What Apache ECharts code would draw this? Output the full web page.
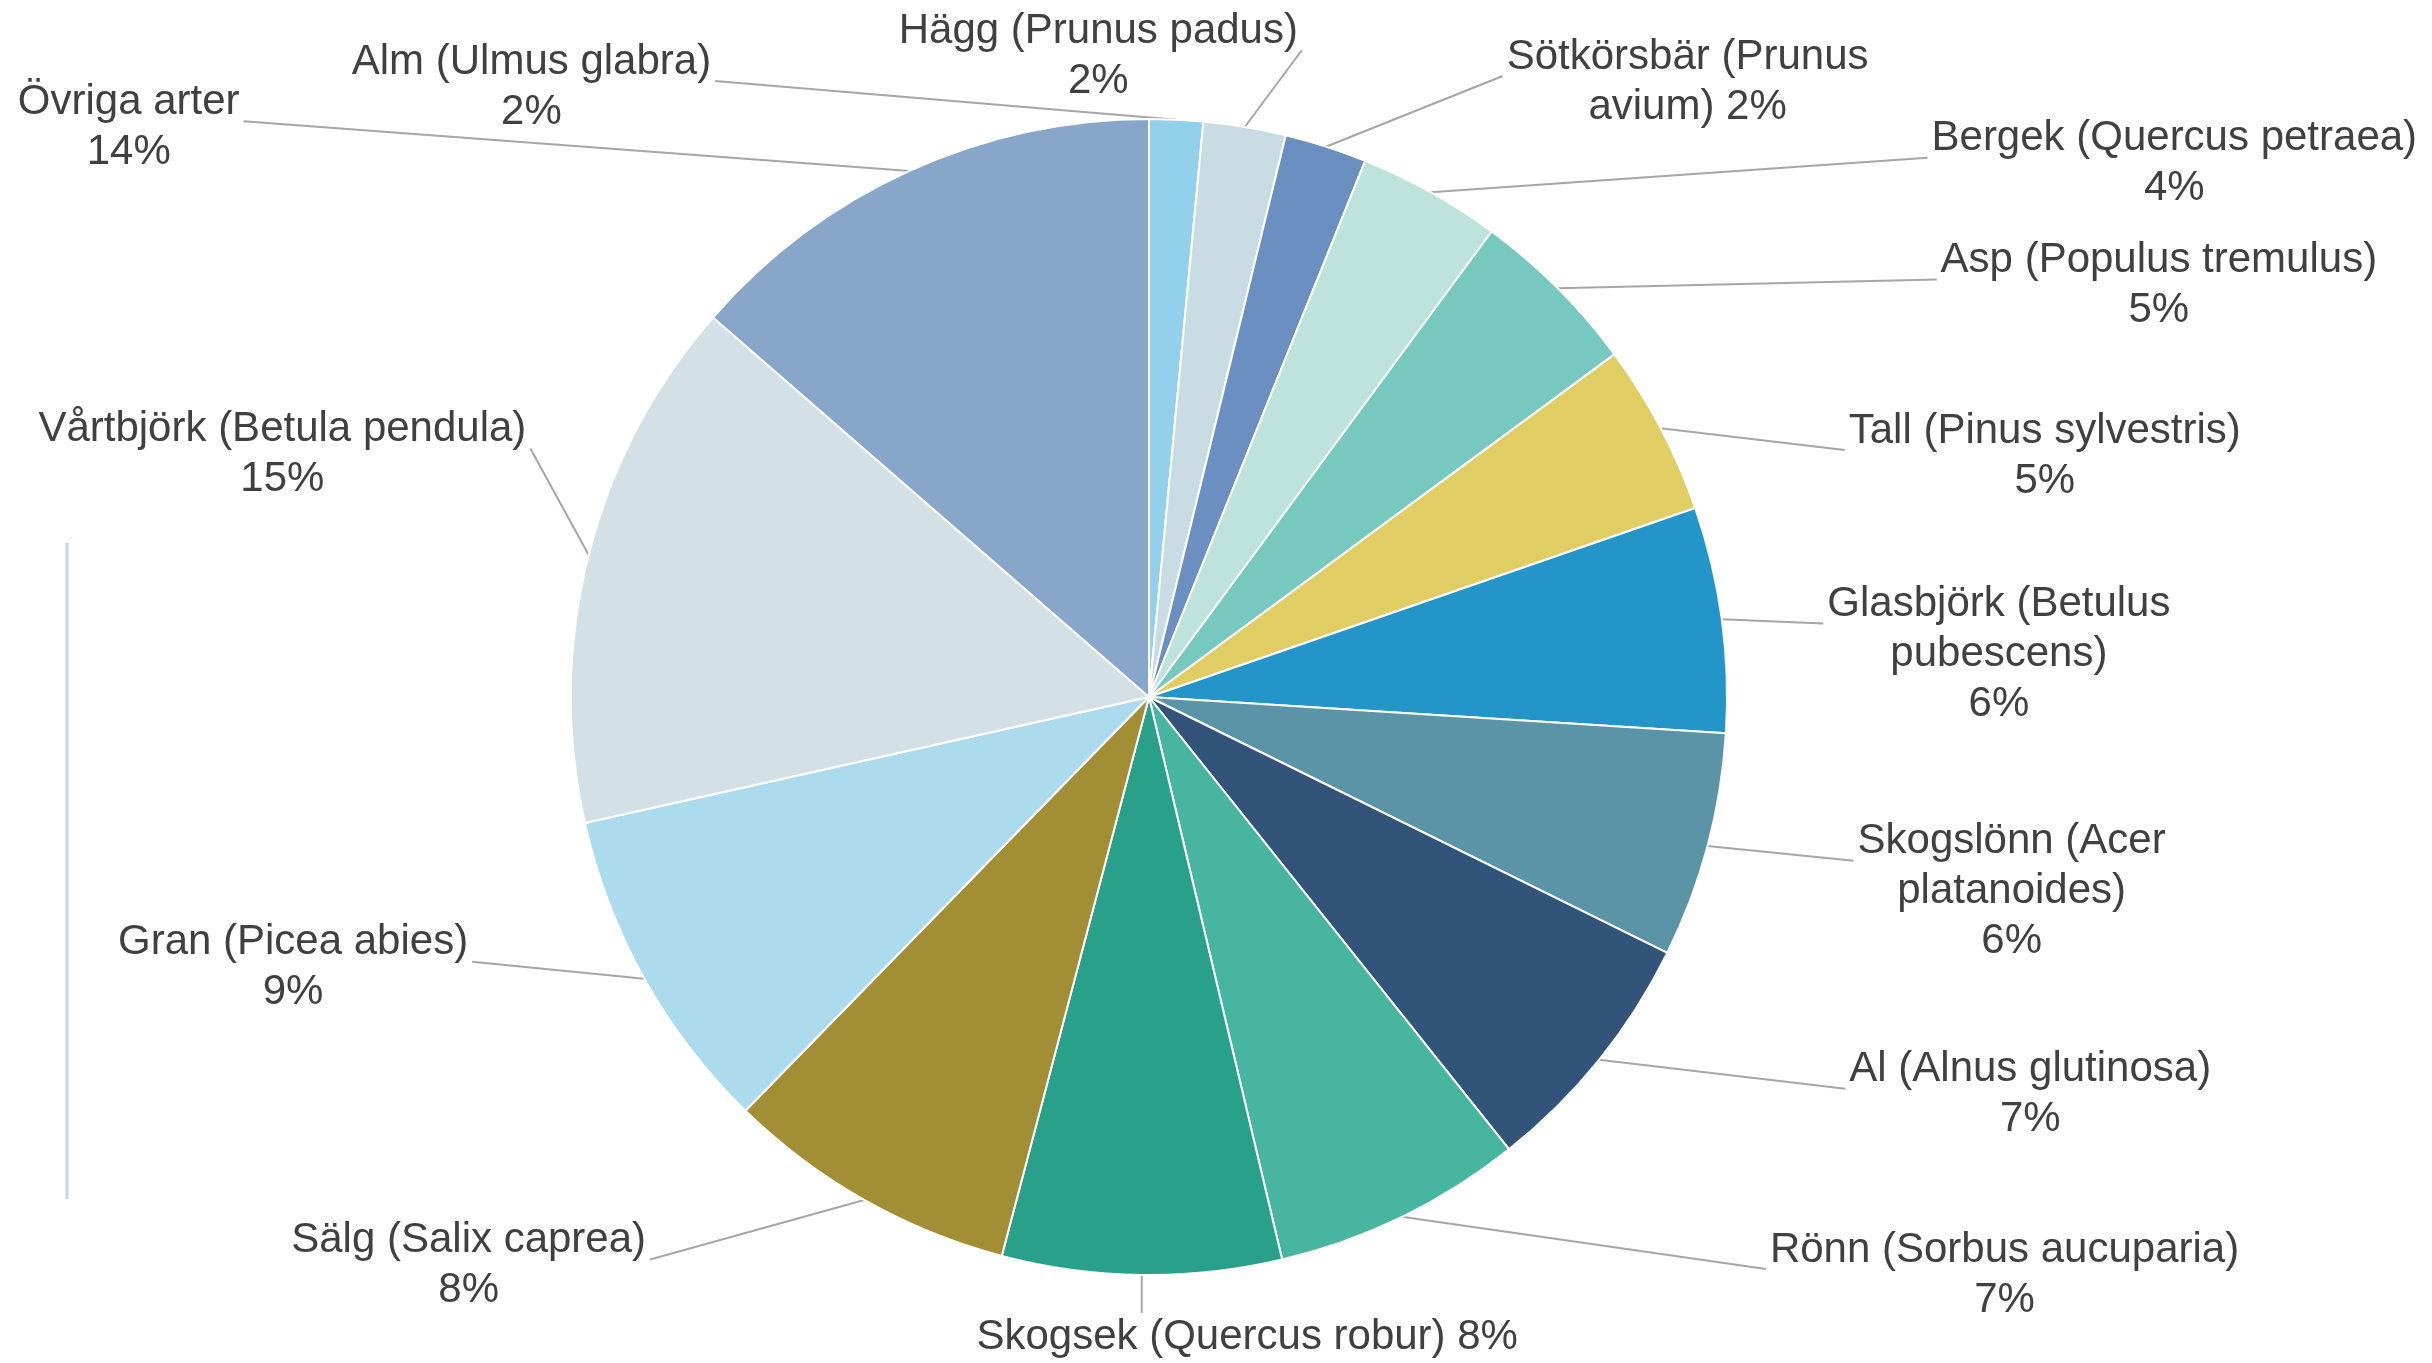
<!DOCTYPE html>
<html>
<head>
<meta charset="utf-8">
<script src="https://cdn.jsdelivr.net/npm/echarts@6/dist/echarts.min.js"></script>
<style>
  html, body { margin: 0; padding: 0; background: #ffffff; }
  #chart { width: 2432px; height: 1363px; }
</style>
</head>
<body>
<div id="chart"></div>
<script>
// ---- Data (clockwise from 12 o'clock) ----
const categories = [
  'Alm (Ulmus glabra)',
  'Hägg (Prunus padus)',
  'Sötkörsbär (Prunus avium)',
  'Bergek (Quercus petraea)',
  'Asp (Populus tremulus)',
  'Tall (Pinus sylvestris)',
  'Glasbjörk (Betulus pubescens)',
  'Skogslönn (Acer platanoides)',
  'Al (Alnus glutinosa)',
  'Rönn (Sorbus aucuparia)',
  'Skogsek (Quercus robur)',
  'Sälg (Salix caprea)',
  'Gran (Picea abies)',
  'Vårtbjörk (Betula pendula)',
  'Övriga arter'
];
const shares = [1.5, 2.3, 2.3, 4.0, 4.8, 4.8, 6.3, 6.3, 7.0, 7.0, 7.8, 8.2, 9.2, 14.9, 13.6];

// Label rows as wrapped in the original ({p} = percentage)
const labelRows = [
  ['Alm (Ulmus glabra)', '{p}'],
  ['Hägg (Prunus padus)', '{p}'],
  ['Sötkörsbär (Prunus', 'avium) {p}'],
  ['Bergek (Quercus petraea)', '{p}'],
  ['Asp (Populus tremulus)', '{p}'],
  ['Tall (Pinus sylvestris)', '{p}'],
  ['Glasbjörk (Betulus', 'pubescens)', '{p}'],
  ['Skogslönn (Acer', 'platanoides)', '{p}'],
  ['Al (Alnus glutinosa)', '{p}'],
  ['Rönn (Sorbus aucuparia)', '{p}'],
  ['Skogsek (Quercus robur) {p}'],
  ['Sälg (Salix caprea)', '{p}'],
  ['Gran (Picea abies)', '{p}'],
  ['Vårtbjörk (Betula pendula)', '{p}'],
  ['Övriga arter', '{p}']
];

// ---- Styles ----
const sliceColors = [
  '#92D0EB', '#C9DCE3', '#6A8FC0', '#BEE3DC', '#77C9C0',
  '#E0CD63', '#2395C9', '#5B94A6', '#33547A', '#48B5A0',
  '#28A08A', '#A18E35', '#ADDBEE', '#D3E1E7', '#88A6CA'
];
// label-line lengths [length, length2] per slice (label placement)
const labelLineLens = [
  [32.6, -831], [72, -363], [68, 155], [32.6, 480], [4.1, 375],
  [-59.8, 236], [-262.8, 361], [177.7, -26.6], [55.7, 202], [64.6, 335],
  [62, -382], [75.4, 176], [-22.2, 190.5], [409.2, -339.3], [48.1, 645]
];

const data = categories.map((name, i) => ({
  name: name,
  value: shares[i],
  itemStyle: { color: sliceColors[i] },
  labelLine: { length: labelLineLens[i][0], length2: labelLineLens[i][1] }
}));

const chart = echarts.init(document.getElementById('chart'), null, { renderer: 'canvas' });

chart.setOption({
  animation: false,
  backgroundColor: '#ffffff',
  graphic: [{
    type: 'line',
    shape: { x1: 67, y1: 543, x2: 67, y2: 1199 },
    style: { stroke: '#BDD7EE', lineWidth: 3 }
  }],
  series: [{
    type: 'pie',
    center: [1149, 697],
    radius: 578,
    startAngle: 90,
    clockwise: true,
    avoidLabelOverlap: false,
    itemStyle: { borderColor: '#ffffff', borderWidth: 2 },
    emphasis: { disabled: true },
    label: {
      show: true,
      position: 'outside',
      distanceToLabelLine: 5,
      fontFamily: '"Liberation Sans", Arial, sans-serif',
      fontSize: 42,
      color: '#404040',
      formatter: function (p) {
        const pct = Math.round(p.percent) + '%';
        return labelRows[p.dataIndex]
          .map(r => '{c|' + r.replace('{p}', pct) + '}')
          .join('\n');
      },
      rich: {
        c: {
          align: 'center',
          fontFamily: '"Liberation Sans", Arial, sans-serif',
          fontSize: 42,
          lineHeight: 50,
          color: '#404040'
        }
      }
    },
    labelLine: {
      show: true,
      lineStyle: { color: '#A6A6A6', width: 2 }
    },
    labelLayout: function (params) {
      const pts = params.labelLinePoints;
      const r = params.labelRect;
      if (!pts || !r) return {};
      const E = pts[0];
      const rel = (E[0] - r.x) / r.width;
      let A;
      if (rel > 0.2 && rel < 0.8) {
        A = [E[0], E[1] < r.y ? r.y - 3 : r.y + r.height + 3];
      } else if (E[0] < r.x + r.width / 2) {
        A = [r.x - 4, r.y + 40];
      } else {
        A = [r.x + r.width + 4, r.y + 40];
      }
      return { labelLinePoints: [E, A] };
    },
    data: data
  }]
});
</script>
</body>
</html>
